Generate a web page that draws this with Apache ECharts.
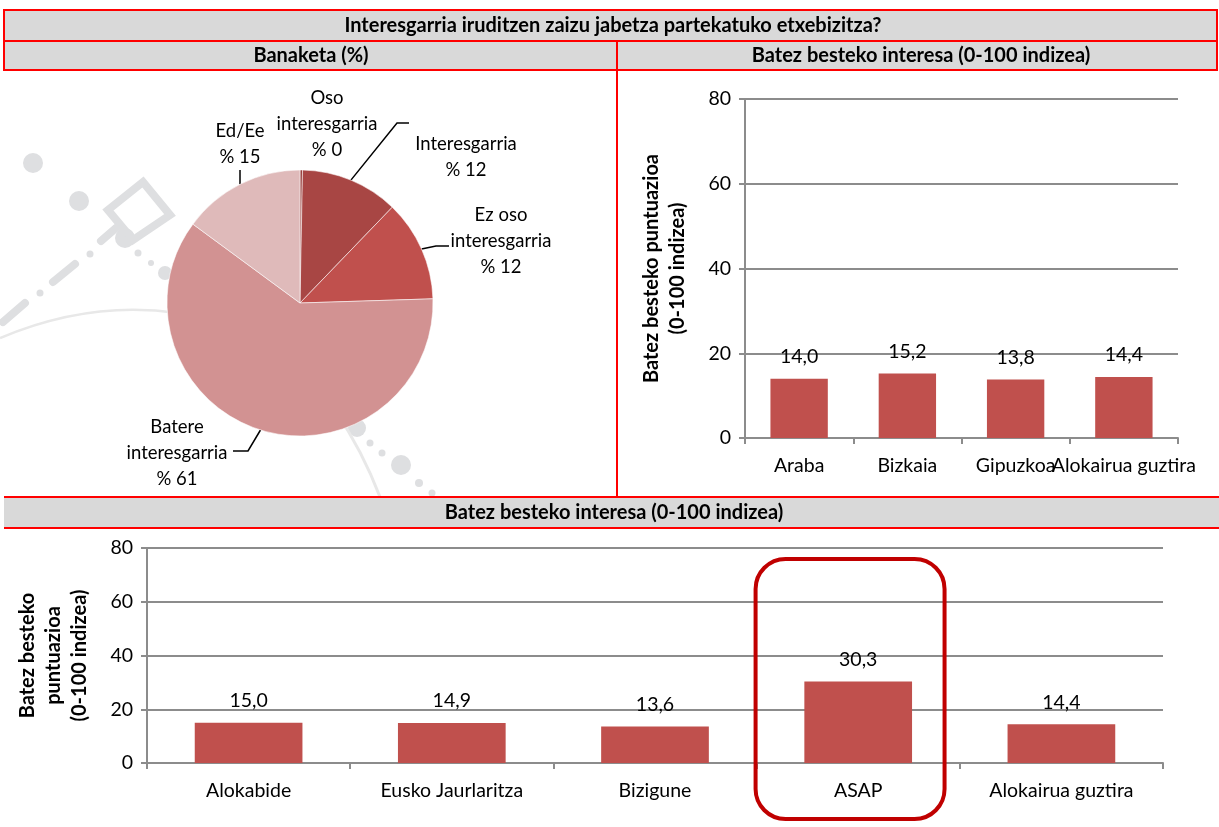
<!DOCTYPE html>
<html>
<head>
<meta charset="utf-8">
<script src="https://cdn.jsdelivr.net/npm/echarts@6/dist/echarts.min.js"></script>
<style>
  html, body { margin: 0; padding: 0; background: #ffffff; }
  #chart { width: 1219px; height: 827px; }
</style>
</head>
<body>
<div id="chart"></div>
<script>
// ---- data ----
const pieCategories = ['Oso\ninteresgarria', 'Interesgarria', 'Ez oso\ninteresgarria', 'Batere\ninteresgarria', 'Ed/Ee'];
const pieValues = [0.3, 11.9, 12.3, 60.6, 14.9];

const territoryCategories = ['Araba', 'Bizkaia', 'Gipuzkoa', 'Alokairua guztira'];
const territoryValues = [14.0, 15.2, 13.8, 14.4];

const providerCategories = ['Alokabide', 'Eusko Jaurlaritza', 'Bizigune', 'ASAP', 'Alokairua guztira'];
const providerValues = [15.0, 14.9, 13.6, 30.3, 14.4];

const scoreTicks = [0, 20, 40, 60, 80];

// ---- styling ----
const FONT = 'Lato, "Open Sans", sans-serif';
const RED = '#FF0000';
const BAND = '#D9D9D9';
const GRIDGRAY = '#8C8C8C';
const BAR = '#C0504D';
const pieColors = ['#943634', '#A84644', '#C0504D', '#D29292', '#DFBABA'];
const MARK = '#DEDFE1';
const TXT = 19.5;   // regular text size
const HEAD = 20;    // bold header / axis-name size

// where each pie label sits, and the bends of its leader line
const pieLabelSpots = [
  { x: 327, y: 124, bend: null },
  { x: 466, y: 157, bend: [[397, 123], [409, 123]] },
  { x: 501, y: 241, bend: [[436, 246], [449, 246]] },
  { x: 177, y: 453, bend: [[248, 451], [233, 451]] },
  { x: 240, y: 144, bend: [[240, 170], [240, 170]] }
];

const chart = echarts.init(document.getElementById('chart'), null, { renderer: 'canvas' });

function fmtComma(v) { return v.toFixed(1).replace('.', ','); }

// faint decorative background strokes
function decoration() {
  const els = [];
  const dot = (x, y, r) => els.push({ type: 'circle', shape: { cx: x, cy: y, r: r }, style: { fill: MARK }, z: 0 });
  const dash = (x1, y1, x2, y2, w) => els.push({ type: 'line', shape: { x1, y1, x2, y2 }, style: { stroke: MARK, lineWidth: w, lineCap: 'round' }, z: 0 });
  dot(33, 163, 10); dot(79, 201, 10); dot(125, 238, 10);
  els.push({ type: 'polygon', shape: { points: [[143, 182], [170, 215], [133, 240], [108, 210]] }, style: { fill: 'none', stroke: MARK, lineWidth: 8 }, z: 0 });
  dash(3, 322, 25, 303, 8); dot(40, 293, 3.5);
  dash(53, 282, 75, 264, 8); dot(90, 254, 3.5);
  dash(101, 241, 116, 228, 8);
  dot(138, 253, 3.5); dot(151, 263, 3); dot(165, 273, 7);
  dot(357, 428, 9); dot(370, 443, 3.5); dot(382, 453, 3.5); dot(401, 465, 10); dot(419, 483, 4); dot(432, 493, 3.5);
  els.push({ type: 'bezierCurve', shape: { x1: 0, y1: 338, cpx1: 90, cpy1: 300, x2: 178, y2: 313 }, style: { fill: 'none', stroke: '#E8E8E8', lineWidth: 2.5 }, z: 0 });
  els.push({ type: 'bezierCurve', shape: { x1: 336, y1: 412, cpx1: 362, cpy1: 450, x2: 380, y2: 497 }, style: { fill: 'none', stroke: '#E8E8E8', lineWidth: 3 }, z: 0 });
  return els;
}

// header bands, titles and red rules
function frame() {
  const els = [];
  const rect = (x, y, w, h) => els.push({ type: 'rect', shape: { x, y, width: w, height: h }, style: { fill: BAND }, z: 5 });
  const rule = (x1, y1, x2, y2) => els.push({ type: 'line', shape: { x1, y1, x2, y2 }, style: { stroke: RED, lineWidth: 2 }, z: 6 });
  const title = (x, y, t) => els.push({ type: 'text', x, y, style: { text: t, font: 'bold ' + HEAD + 'px ' + FONT, fill: '#000', align: 'center', verticalAlign: 'middle' }, z: 7 });
  rect(4, 10, 1213, 60);
  rect(4, 497, 1215, 31);
  rule(4, 10, 1217, 10);
  rule(4, 41, 1217, 41);
  rule(4, 70, 1217, 70);
  rule(4, 9, 4, 71);
  rule(1217, 9, 1217, 71);
  rule(617, 41, 617, 497);
  rule(4, 497, 1219, 497);
  rule(4, 528, 1219, 528);
  title(613, 26, 'Interesgarria iruditzen zaizu jabetza partekatuko etxebizitza?');
  title(311, 56, 'Banaketa (%)');
  title(921, 56, 'Batez besteko interesa (0-100 indizea)');
  title(614, 513, 'Batez besteko interesa (0-100 indizea)');
  return els;
}

function valueAxis(gridIndex, name) {
  return {
    type: 'value', gridIndex,
    min: scoreTicks[0], max: scoreTicks[scoreTicks.length - 1], interval: scoreTicks[1] - scoreTicks[0],
    name, nameLocation: 'middle', nameGap: 54, nameRotate: 90,
    nameTextStyle: { fontFamily: FONT, fontWeight: 'bold', fontSize: HEAD, lineHeight: 26, color: '#000' },
    axisLine: { show: true, lineStyle: { color: GRIDGRAY, width: 2 } },
    axisTick: { show: true, length: 6, lineStyle: { color: GRIDGRAY, width: 2 } },
    axisLabel: { fontFamily: FONT, fontSize: TXT, color: '#000', margin: 14 },
    splitLine: { show: true, lineStyle: { color: GRIDGRAY, width: 2 } }
  };
}

function categoryAxis(gridIndex, data) {
  return {
    type: 'category', gridIndex, data,
    axisLine: { show: true, lineStyle: { color: GRIDGRAY, width: 2 } },
    axisTick: { show: true, length: 6, alignWithLabel: false, lineStyle: { color: GRIDGRAY, width: 2 } },
    axisLabel: { interval: 0, fontFamily: FONT, fontSize: TXT, color: '#000', margin: 18 }
  };
}

function barSeries(axisIndex, values) {
  return {
    type: 'bar', xAxisIndex: axisIndex, yAxisIndex: axisIndex,
    data: values, barWidth: '53%',
    itemStyle: { color: BAR },
    label: {
      show: true, position: 'top', distance: 12,
      fontFamily: FONT, fontSize: TXT, color: '#000',
      formatter: p => fmtComma(p.value)
    },
    z: 3
  };
}

const option = {
  animation: false,
  backgroundColor: '#ffffff',
  textStyle: { fontFamily: FONT },
  grid: [
    { left: 745, right: 41, top: 99, bottom: 389 },
    { left: 147, right: 56, top: 548, bottom: 64 }
  ],
  xAxis: [categoryAxis(0, territoryCategories), categoryAxis(1, providerCategories)],
  yAxis: [
    valueAxis(0, 'Batez besteko puntuazioa\n(0-100 indizea)'),
    valueAxis(1, 'Batez besteko\npuntuazioa\n(0-100 indizea)')
  ],
  series: [
    {
      type: 'pie',
      center: [300, 303],
      radius: 133,
      startAngle: 90,
      clockwise: true,
      avoidLabelOverlap: false,
      z: 3,
      data: pieCategories.map((name, i) => ({
        name, value: pieValues[i],
        itemStyle: { color: pieColors[i] },
        labelLine: { show: pieLabelSpots[i].bend !== null }
      })),
      itemStyle: { borderColor: 'rgba(255,255,255,0.55)', borderWidth: 1 },
      label: {
        show: true, position: 'outside',
        fontFamily: FONT, fontSize: 18.5, lineHeight: 26, color: '#000', align: 'center',
        formatter: p => p.name + '\n% ' + Math.round(p.value)
      },
      labelLine: { show: true, length: 10, length2: 10, lineStyle: { color: '#000', width: 1.5 } },
      labelLayout: function (p) {
        const s = pieLabelSpots[p.dataIndex];
        const out = { x: s.x, y: s.y, align: 'center', verticalAlign: 'middle' };
        if (s.bend && p.labelLinePoints) {
          out.labelLinePoints = [p.labelLinePoints[0], s.bend[0], s.bend[1]];
        }
        return out;
      },
      emphasis: { disabled: true }
    },
    barSeries(0, territoryValues),
    barSeries(1, providerValues)
  ],
  graphic: decoration().concat(frame())
};

chart.setOption(option);

// outline round the ASAP column, placed from the category axis
const asapIdx = providerCategories.indexOf('ASAP');
const asapX = chart.convertToPixel({ xAxisIndex: 1 }, providerCategories[asapIdx]);
const stepX = chart.convertToPixel({ xAxisIndex: 1 }, providerCategories[asapIdx + 1]) - asapX;
const boxW = stepX * 0.93;
const boxCenter = asapX - stepX * 0.04;
chart.setOption({
  graphic: decoration().concat(frame()).concat([{
    type: 'rect',
    shape: { x: boxCenter - boxW / 2, y: 559, width: boxW, height: 260, r: 30 },
    style: { fill: 'none', stroke: '#C00000', lineWidth: 4 },
    z: 8
  }])
}, { replaceMerge: ['graphic'] });
</script>
</body>
</html>
